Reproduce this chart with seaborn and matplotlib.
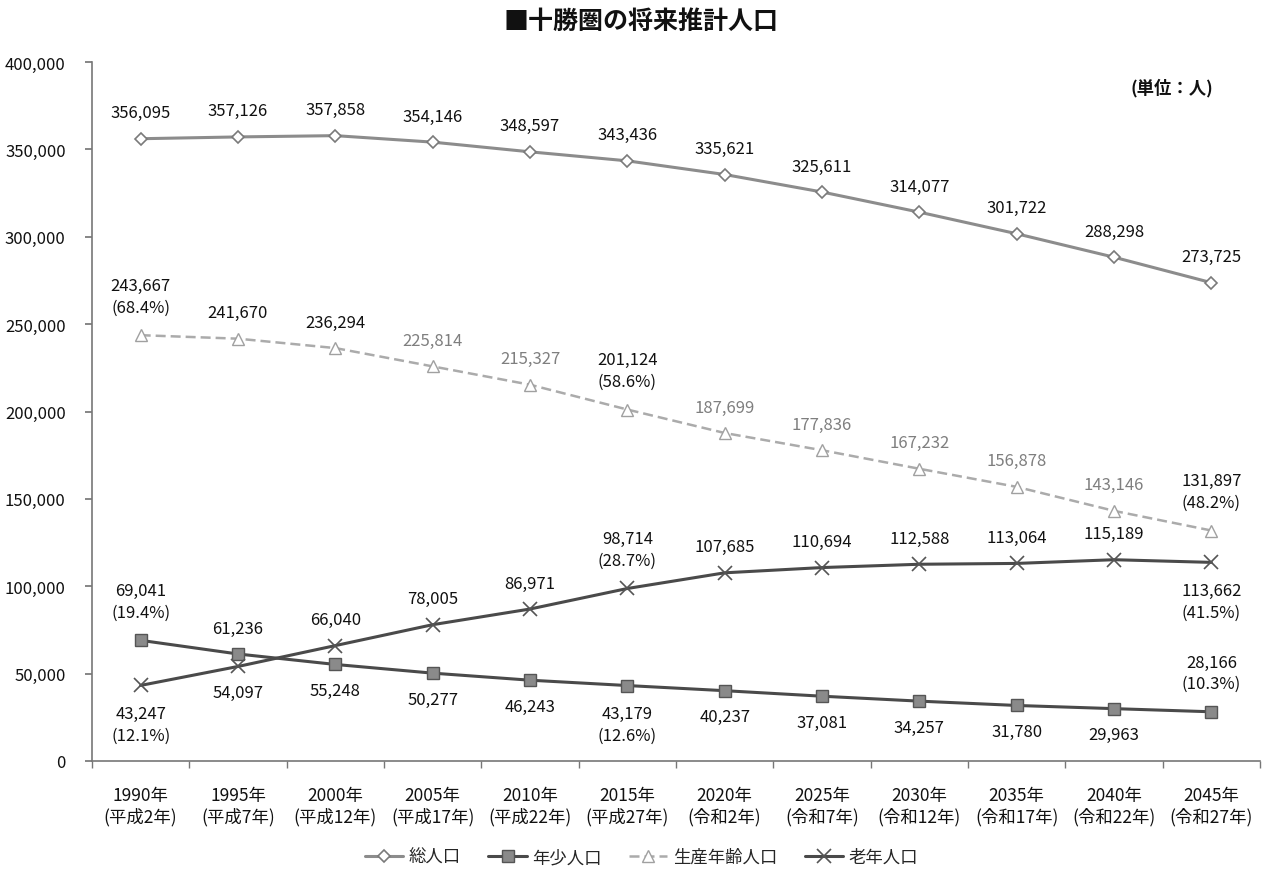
import numpy as np
import pandas as pd
import matplotlib
matplotlib.use("Agg")
import matplotlib.pyplot as plt
import seaborn as sns
from matplotlib.ticker import FuncFormatter, FixedLocator

# data
years = ['1990年', '1995年', '2000年', '2005年', '2010年', '2015年',
         '2020年', '2025年', '2030年', '2035年', '2040年', '2045年']
eras = ['(平成2年)', '(平成7年)', '(平成12年)', '(平成17年)', '(平成22年)', '(平成27年)',
        '(令和2年)', '(令和7年)', '(令和12年)', '(令和17年)', '(令和22年)', '(令和27年)']

total = [356095, 357126, 357858, 354146, 348597, 343436,
         335621, 325611, 314077, 301722, 288298, 273725]
youth = [69041, 61236, 55248, 50277, 46243, 43179,
         40237, 37081, 34257, 31780, 29963, 28166]
working = [243667, 241670, 236294, 225814, 215327, 201124,
           187699, 177836, 167232, 156878, 143146, 131897]
elderly = [43247, 54097, 66040, 78005, 86971, 98714,
           107685, 110694, 112588, 113064, 115189, 113662]

total_pct = [''] * 12
youth_pct = ['19.4%', '', '', '', '', '12.6%', '', '', '', '', '', '10.3%']
working_pct = ['68.4%', '', '', '', '', '58.6%', '', '', '', '', '', '48.2%']
elderly_pct = ['12.1%', '', '', '', '', '28.7%', '', '', '', '', '', '41.5%']

# label side: 1 = above the point, -1 = below
total_side = [1] * 12
youth_side = [1, 1, -1, -1, -1, -1, -1, -1, -1, -1, -1, 1]
working_side = [1] * 12
elderly_side = [-1, -1, 1, 1, 1, 1, 1, 1, 1, 1, 1, -1]

x = np.arange(len(years))

sns.set_theme(style='white')
plt.rcParams['font.family'] = ['Noto Sans CJK JP', 'DejaVu Sans']

fig = plt.figure(figsize=(12.7, 8.7), dpi=100)
ax = fig.add_axes([92 / 1270, 1 - 762 / 870, 1168 / 1270, 699 / 870])

series = [
    ('総人口', total, total_pct, total_side,
     dict(color='#8c8c8c', lw=2.2, marker='D', ms=6, mfc='white', mec='#7a7a7a', mew=1.2)),
    ('年少人口', youth, youth_pct, youth_side,
     dict(color='#4a4a4a', lw=2.2, marker='s', ms=9, mfc='#8a8a8a', mec='#555555', mew=1)),
    ('生産年齢人口', working, working_pct, working_side,
     dict(color='#ababab', lw=1.8, linestyle=(0, (4, 2)), marker='^', ms=8,
          mfc='white', mec='#a0a0a0', mew=1)),
    ('老年人口', elderly, elderly_pct, elderly_side,
     dict(color='#4a4a4a', lw=2.2, marker='x', ms=10, mec='#555555', mew=1.2)),
]

for name, vals, pct, side, style in series:
    sns.lineplot(x=x, y=vals, ax=ax, label=name, **style)
    for i, v in enumerate(vals):
        txt = f'{v:,}'
        if pct[i]:
            txt += f'\n({pct[i]})'
        dy = 39 if pct[i] else 26
        color = '#111111'
        if name == '生産年齢人口' and i >= 3 and not pct[i]:
            color = '#7f7f7f'
        ax.annotate(txt, (i, v), xytext=(0, side[i] * dy), textcoords='offset pixels',
                    ha='center', va='center', fontsize=12, color=color, linespacing=1.35)

ax.set_xlim(-0.5, 11.5)
ax.set_ylim(0, 400000)
ax.yaxis.set_major_locator(FixedLocator(np.arange(0, 400001, 50000)))
ax.yaxis.set_major_formatter(FuncFormatter(lambda v, p: f'{int(v):,}'))
ax.set_xticks(x)
ax.set_xticklabels([f'{y}\n{e}' for y, e in zip(years, eras)], fontsize=12.5, linespacing=1.2)
ax.set_xticks(np.arange(-0.5, 12, 1), minor=True)
ax.tick_params(axis='x', which='major', length=0, pad=18, colors='#111111')
ax.tick_params(axis='x', which='minor', length=5, color='#777777', bottom=True)
ax.tick_params(axis='y', which='major', length=5, color='#777777', left=True,
               labelsize=12, pad=14)
for lab in ax.get_yticklabels():
    lab.set_color('#111111')
ax.set_xlabel('')
ax.set_ylabel('')

for s in ['top', 'right']:
    ax.spines[s].set_visible(False)
for s in ['left', 'bottom']:
    ax.spines[s].set_color('#777777')
    ax.spines[s].set_linewidth(1.2)
ax.grid(False)

handles, labels = ax.get_legend_handles_labels()
ax.get_legend().remove()
fig.legend(handles, labels, loc='center', bbox_to_anchor=(0.505, 1 - 858 / 870), ncol=4,
           frameon=False, fontsize=12.5, handlelength=2.2, columnspacing=1.6, handletextpad=0.3)

fig.text(0.505, 1 - 22 / 870, '■十勝圏の将来推計人口', ha='center', va='center',
         fontsize=18, fontweight='bold', color='#111111')
fig.text(1213 / 1270, 1 - 88 / 870, '(単位：人)', ha='right', va='center',
         fontsize=12.5, fontweight='bold', color='#111111')

fig.savefig('out.png', dpi=100)
